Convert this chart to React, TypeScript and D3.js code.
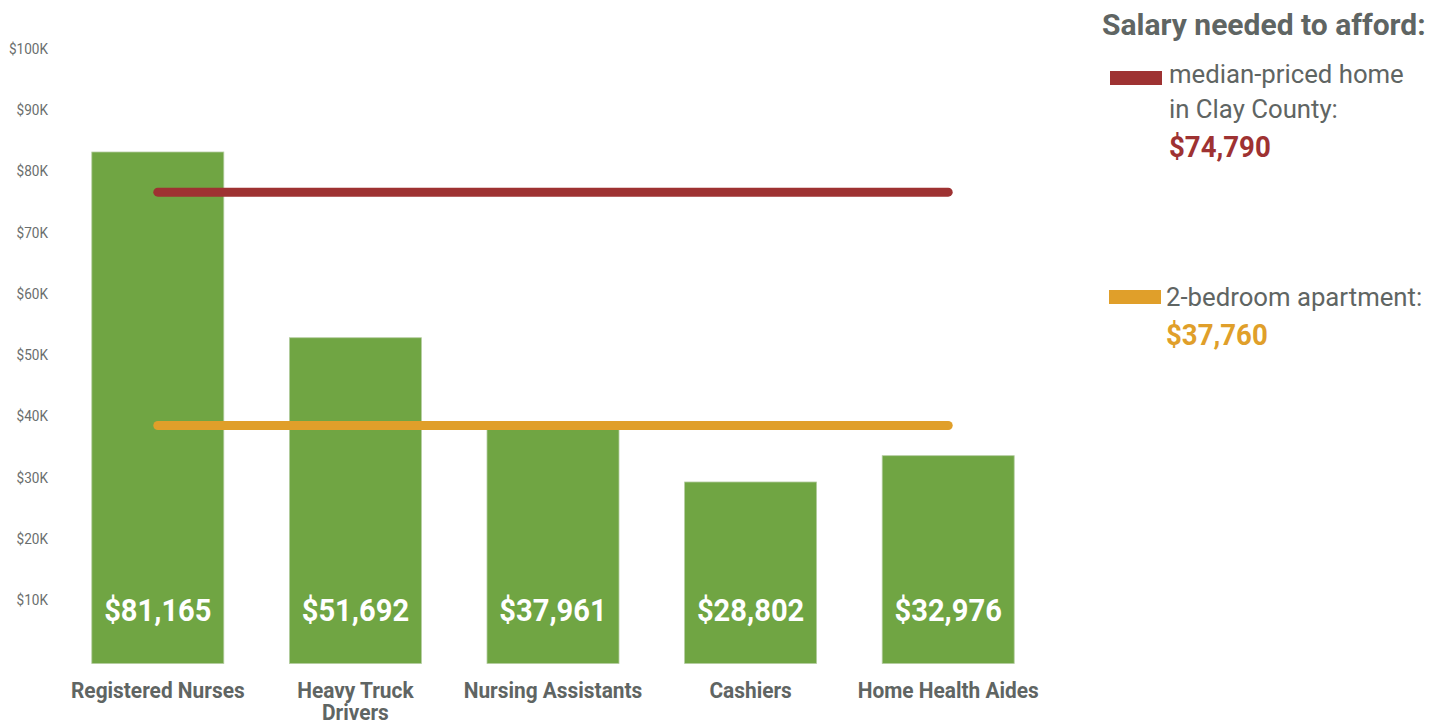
import React from "react";
import * as d3 from "d3";

// Occupations and their median annual wages
const categories = ["Registered Nurses", "Heavy Truck\nDrivers", "Nursing Assistants", "Cashiers", "Home Health Aides"];
const salaries = [81165, 51692, 37961, 28802, 32976];

// Salary needed to afford housing
const homeSalary = 74790;
const apartmentSalary = 37760;

// Axis tick labels
const tickValues = [10000, 20000, 30000, 40000, 50000, 60000, 70000, 80000, 90000, 100000];

const W = 1445;
const H = 725;
const GREEN = "#70a543";
const RED = "#9e3232";
const ORANGE = "#e09f2a";
const GRAY = "#5f6563";
const FONT = "Roboto, 'Noto Sans', sans-serif";

type CTextProps = {
  x: number;
  y: number;
  size: number;
  weight?: number | string;
  fill: string;
  anchor?: "start" | "middle" | "end";
  squeeze?: number;
  children: React.ReactNode;
};

// Text with an optional horizontal squeeze about its anchor point
function CText({ x, y, size, weight = 400, fill, anchor = "start", squeeze = 1, children }: CTextProps) {
  return (
    <text
      transform={`translate(${x},${y}) scale(${squeeze},1)`}
      fontFamily={FONT}
      fontSize={size}
      fontWeight={weight}
      fill={fill}
      textAnchor={anchor}
    >
      {children}
    </text>
  );
}

export default function App() {
  const x = d3.scaleBand<string>().domain(categories).range([59, 1047]).paddingInner(0.332).paddingOuter(0.166);
  const y = d3.scaleLinear().domain([0, 100000]).range([663.5, 33.3]);
  const tickY = d3.scaleLinear().domain([0, 100000]).range([661.2, 49]);

  const firstC = (x(categories[0]) ?? 0) + x.bandwidth() / 2;
  const lastC = (x(categories[categories.length - 1]) ?? 0) + x.bandwidth() / 2;
  const fmt = d3.format("$,");

  return (
    <svg width={W} height={H} style={{ position: "absolute", left: 0, top: 0, background: "#fff" }}>
      {/* y tick labels */}
      {tickValues.map((t) => (
        <CText key={t} x={48} y={tickY(t) + 5} size={14} fill="#6a6e6d" anchor="end" squeeze={0.97}>
          {`$${t / 1000}K`}
        </CText>
      ))}

      {/* bars */}
      {categories.map((c, i) => (
        <rect
          key={c}
          x={x(c)}
          y={y(salaries[i])}
          width={x.bandwidth()}
          height={y(0) - y(salaries[i])}
          fill={GREEN}
          stroke="#b4cca0"
          strokeWidth={0.8}
        />
      ))}

      {/* threshold lines */}
      <line x1={firstC} x2={lastC} y1={y(homeSalary)} y2={y(homeSalary)} stroke={RED} strokeWidth={9} strokeLinecap="round" />
      <line x1={firstC} x2={lastC} y1={y(apartmentSalary)} y2={y(apartmentSalary)} stroke={ORANGE} strokeWidth={9} strokeLinecap="round" />

      {/* value labels inside bars */}
      {categories.map((c, i) => (
        <CText key={c} x={(x(c) ?? 0) + x.bandwidth() / 2} y={y(0) - 43} size={32} weight={700} fill="#fff" anchor="middle" squeeze={0.91}>
          {fmt(salaries[i])}
        </CText>
      ))}

      {/* category labels */}
      {categories.map((c) =>
        c.split("\n").map((line, j) => (
          <CText key={c + j} x={(x(c) ?? 0) + x.bandwidth() / 2} y={698 + j * 21.5} size={22} weight={700} fill={GRAY} anchor="middle" squeeze={0.95}>
            {line}
          </CText>
        ))
      )}

      {/* legend */}
      <CText x={1102} y={35} size={30} weight={700} fill={GRAY}>Salary needed to afford:</CText>

      <rect x={1110} y={71} width={52} height={14} fill={RED} />
      <CText x={1169} y={83} size={26} fill={GRAY} squeeze={0.99}>median-priced home</CText>
      <CText x={1169} y={118} size={26} fill={GRAY} squeeze={0.99}>in Clay County:</CText>
      <CText x={1169} y={157} size={30} weight={700} fill={RED} squeeze={0.92}>{fmt(homeSalary)}</CText>

      <rect x={1109} y={290} width={52} height={14} fill={ORANGE} />
      <CText x={1166} y={306} size={26} fill={GRAY} squeeze={0.99}>2-bedroom apartment:</CText>
      <CText x={1166} y={345} size={30} weight={700} fill={ORANGE} squeeze={0.92}>{fmt(apartmentSalary)}</CText>
    </svg>
  );
}
